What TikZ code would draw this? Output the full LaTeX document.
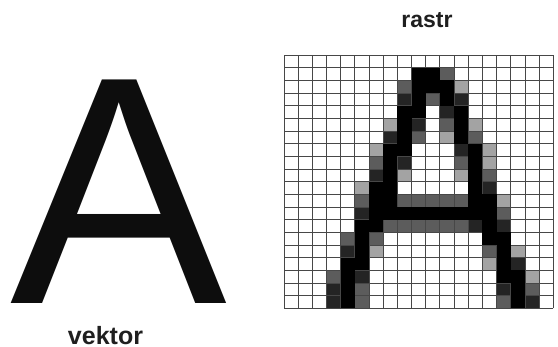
\documentclass[tikz,border=0pt]{standalone}
\usepackage{fontspec}
\setmainfont{Liberation Sans}
\tikzset{
  gridline/.style={draw=black!72, line width=0.9pt},
  lbl/.style={inner sep=0pt, anchor=base, text=black!88, font=\bfseries\fontsize{#1}{#1}\selectfont},
}
\begin{document}
\begin{tikzpicture}[x=1pt,y=1pt]
\useasboundingbox[fill=white] (0,0) rectangle (558,347);
% vector letter
\node[inner sep=0pt, anchor=base west, text=black!95, font=\fontsize{325}{325}\selectfont] (bigA) at (9.8,43.7) {A};
\node[lbl=25] (vektor) at (105.5,2) {vektor};
\node[lbl=23] (rastr) at (427,319) {rastr};
% raster cells
\def\cells{9/1/100,10/1/100,11/1/50,
8/2/50,9/2/100,10/2/100,11/2/100,12/2/25,
8/3/75,9/3/100,10/3/50,11/3/100,12/3/75,
8/4/100,9/4/100,11/4/75,12/4/100,
7/5/25,8/5/100,9/5/75,11/5/50,12/5/100,13/5/25,
7/6/75,8/6/100,9/6/50,11/6/25,12/6/100,13/6/50,
6/7/25,7/7/100,8/7/100,12/7/75,13/7/100,14/7/25,
6/8/50,7/8/100,8/8/75,12/8/50,13/8/100,14/8/25,
6/9/75,7/9/100,8/9/25,12/9/25,13/9/100,14/9/50,
5/10/25,6/10/100,7/10/100,13/10/100,14/10/75,
5/11/50,6/11/100,7/11/100,8/11/50,9/11/50,10/11/50,11/11/50,12/11/50,13/11/100,14/11/100,15/11/25,
5/12/75,6/12/100,7/12/100,8/12/100,9/12/100,10/12/100,11/12/100,12/12/100,13/12/100,14/12/100,15/12/50,
5/13/100,6/13/100,7/13/50,8/13/50,9/13/50,10/13/50,11/13/50,12/13/50,13/13/75,14/13/100,15/13/75,
4/14/50,5/14/100,6/14/50,14/14/100,15/14/100,
4/15/75,5/15/100,6/15/25,14/15/50,15/15/100,16/15/25,
4/16/100,5/16/100,14/16/25,15/16/100,16/16/75,
3/17/50,4/17/100,5/17/75,15/17/100,16/17/100,17/17/25,
3/18/75,4/18/100,5/18/50,15/18/75,16/18/100,17/18/50,
3/19/75,4/19/100,5/19/50,15/19/50,16/19/100,17/19/75}
\foreach \c/\r/\v in \cells {
  \pgfmathtruncatemacro\vv{\v==100 ? 100 : (\v==75 ? 86 : (\v==50 ? 64 : 36))}
  \fill[black!\vv] ({284+14.175*\c},{292-12.665*\r}) rectangle ++(14.175,-12.665);
}
% grid
\foreach \i in {0,...,19} {
  \draw[gridline] ({284+14.175*\i},38.7) -- ({284+14.175*\i},292);
}
\foreach \j in {0,...,20} {
  \draw[gridline] (284,{292-12.665*\j}) -- (553.3,{292-12.665*\j});
}
% black cells on top of the grid
\foreach \c/\r/\v in \cells {
  \ifnum\v=100
    \fill[black] ({284+14.175*\c},{292-12.665*\r}) rectangle ++(14.175,-12.665);
  \fi
}
\end{tikzpicture}
\end{document}
